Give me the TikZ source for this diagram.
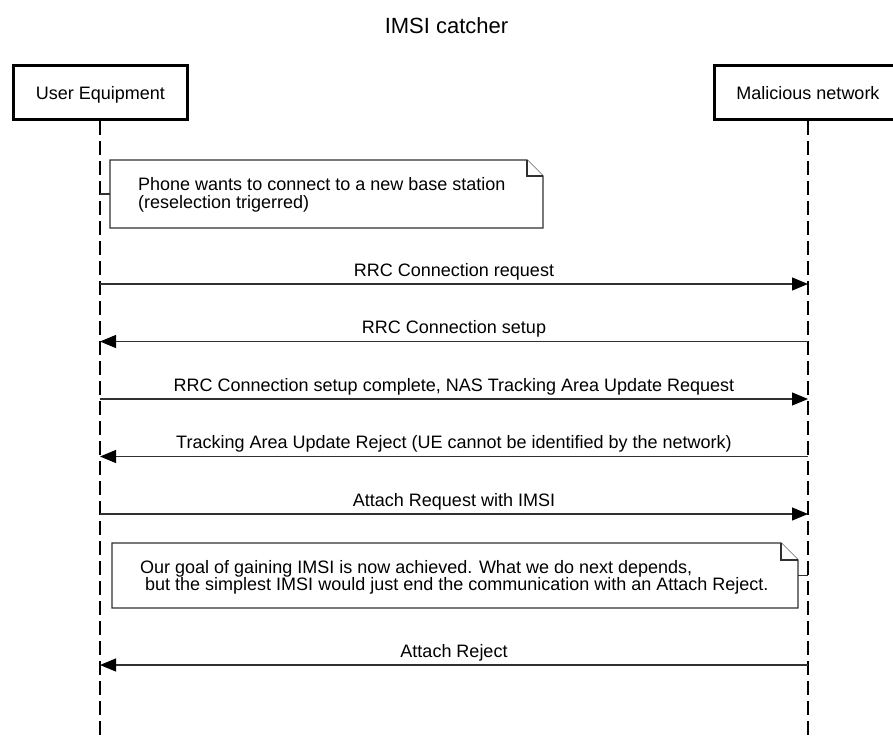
\documentclass[tikz,border=0pt]{standalone}
\usepackage{fontspec}
\setmainfont{Liberation Sans}
\usetikzlibrary{arrows.meta}
\definecolor{ink}{HTML}{303030}
\begin{document}
\begin{tikzpicture}[x=1pt,y=-1pt,
  txt/.style={font=\fontsize{18}{18}\selectfont, inner sep=0pt},
  headbox/.style={draw=black, line width=3pt, inner sep=0pt, minimum height=54pt,
    text height=13pt, text depth=0pt, font=\fontsize{18}{18}\selectfont},
  lifeline/.style={draw=black, line width=1.3pt, dash pattern=on 14pt off 6pt},
  msg/.style={draw=ink, line width=1.1pt, -{Triangle[length=16pt,width=13pt,color=black]}},
  msglabel/.style={txt, anchor=base, yshift=8pt},
  notebox/.style={draw=ink, line width=1.1pt, fill=white},
  notelink/.style={draw=ink, line width=1.1pt},
  notetext/.style={txt, anchor=base west},
]
\useasboundingbox (0,0) rectangle (893,736);

% title
\node[txt, font=\fontsize{22}{22}\selectfont, anchor=base] (title) at (446.5,33) {IMSI catcher};

% participants
\node[headbox, minimum width=174pt] (ue) at (100.5,92.5) {User Equipment};
\node[headbox, minimum width=187pt] (mn) at (808,92.5) {Malicious network};

% lifelines
\coordinate (ueend) at (100,742);
\coordinate (mnend) at (808,742);
\draw[lifeline] (ue.south -| ueend) -- (ueend);
\draw[lifeline] (mn.south -| mnend) -- (mnend);

% first note
\draw[notebox] (110,160) -- (527,160) -- (543,176) -- (543,228) -- (110,228) -- cycle;
\draw[notebox] (527,160) -- (527,176) -- (543,176);
\node[notetext] (n1a) at (138,190) {Phone wants to connect to a new base station};
\node[notetext] (n1b) at (138,208) {(reselection trigerred)};
\coordinate (n1w) at (110,194);
\draw[notelink] (ueend |- n1w) -- (n1w);

% messages
\coordinate (ue1) at (ueend |- 0,284);   \coordinate (mn1) at (mnend |- 0,284);
\coordinate (ue2) at (ueend |- 0,341.5); \coordinate (mn2) at (mnend |- 0,341.5);
\coordinate (ue3) at (ueend |- 0,399);   \coordinate (mn3) at (mnend |- 0,399);
\coordinate (ue4) at (ueend |- 0,456.5); \coordinate (mn4) at (mnend |- 0,456.5);
\coordinate (ue5) at (ueend |- 0,514);   \coordinate (mn5) at (mnend |- 0,514);
\coordinate (ue6) at (ueend |- 0,665);   \coordinate (mn6) at (mnend |- 0,665);

\draw[msg] (ue1) -- (mn1) node[msglabel, midway] (m1) {RRC Connection request};
\draw[msg] (mn2) -- (ue2) node[msglabel, midway] (m2) {RRC Connection setup};
\draw[msg] (ue3) -- (mn3) node[msglabel, midway] (m3) {RRC Connection setup complete, NAS Tracking Area Update Request};
\draw[msg] (mn4) -- (ue4) node[msglabel, midway] (m4) {Tracking Area Update Reject (UE cannot be identified by the network)};
\draw[msg] (ue5) -- (mn5) node[msglabel, midway] (m5) {Attach Request with IMSI};

% second note
\draw[notebox] (112,543) -- (781,543) -- (798,560) -- (798,608) -- (112,608) -- cycle;
\draw[notebox] (781,543) -- (781,560) -- (798,560);
\node[notetext] (n2a) at (140,573) {Our goal of gaining IMSI is now achieved. What we do next depends,};
\node[notetext] (n2b) at (140,590) {\hspace*{5pt}but the simplest IMSI would just end the communication with an Attach Reject.};
\coordinate (n2e) at (798,575.5);
\draw[notelink] (n2e) -- (mnend |- n2e);

\draw[msg] (mn6) -- (ue6) node[msglabel, midway] (m6) {Attach Reject};
\end{tikzpicture}
\end{document}
